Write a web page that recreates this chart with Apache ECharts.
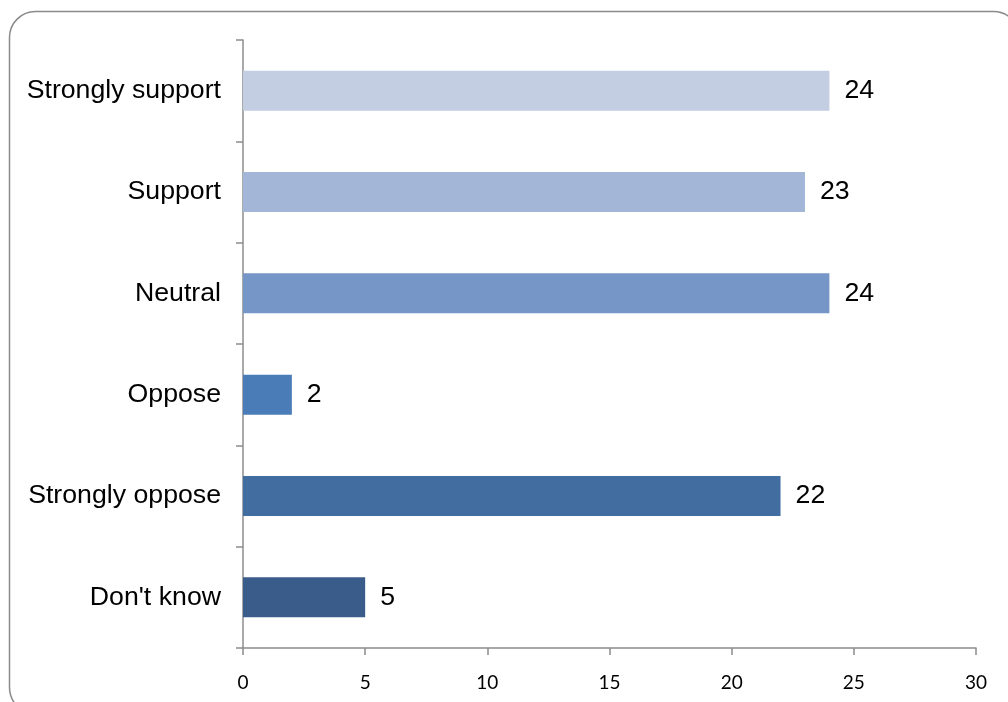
<!DOCTYPE html>
<html>
<head>
<meta charset="utf-8">
<script src="https://cdn.jsdelivr.net/npm/echarts@6/dist/echarts.min.js"></script>
<style>
  html, body { margin: 0; padding: 0; background: #ffffff; }
  #chart { width: 1008px; height: 702px; }
</style>
</head>
<body>
<div id="chart"></div>
<script>
// Survey responses, listed top to bottom
const categories = ['Strongly support', 'Support', 'Neutral', 'Oppose', 'Strongly oppose', "Don't know"];
const counts = [24, 23, 24, 2, 22, 5];
const barColors = ['#C3CEE3', '#A3B6D7', '#7596C6', '#4A7DB7', '#426DA1', '#3A5C8A'];
const xTicks = { min: 0, max: 30, interval: 5 };

const chart = echarts.init(document.getElementById('chart'));

chart.setOption({
  animation: false,
  backgroundColor: '#ffffff',
  graphic: [{
    // rounded frame that runs past the right and bottom edges
    type: 'rect',
    shape: { x: 9.5, y: 11.5, width: 1010, height: 702, r: 26 },
    style: { fill: 'none', stroke: '#8a8a8a', lineWidth: 1.5 },
    silent: true,
    z: -1
  }],
  grid: { left: 243, right: 32, top: 40, bottom: 54, containLabel: false },
  xAxis: {
    type: 'value',
    min: xTicks.min,
    max: xTicks.max,
    interval: xTicks.interval,
    axisLine: { show: true, lineStyle: { color: '#8c8c8c', width: 1.5 } },
    axisTick: { show: true, length: 7, lineStyle: { color: '#8c8c8c', width: 1.5 } },
    splitLine: { show: false },
    axisLabel: { color: '#000000', fontFamily: 'Lato', fontSize: 19, margin: 25 }
  },
  yAxis: {
    type: 'category',
    data: categories,
    inverse: true,
    axisLine: { show: true, lineStyle: { color: '#8c8c8c', width: 1.5 } },
    axisTick: { show: true, length: 7, lineStyle: { color: '#8c8c8c', width: 1.5 } },
    axisLabel: {
      color: '#000000', fontFamily: 'Liberation Sans', fontSize: 26.7, margin: 22,
      padding: [4, 0, 0, 0]
    }
  },
  series: [{
    type: 'bar',
    barWidth: 40,
    data: counts.map((v, i) => ({ value: v, itemStyle: { color: barColors[i] } })),
    label: {
      show: true,
      position: 'right',
      distance: 15,
      color: '#000000',
      fontFamily: 'Liberation Sans',
      fontSize: 26.7,
      padding: [4, 0, 0, 0]
    }
  }]
});
</script>
</body>
</html>
